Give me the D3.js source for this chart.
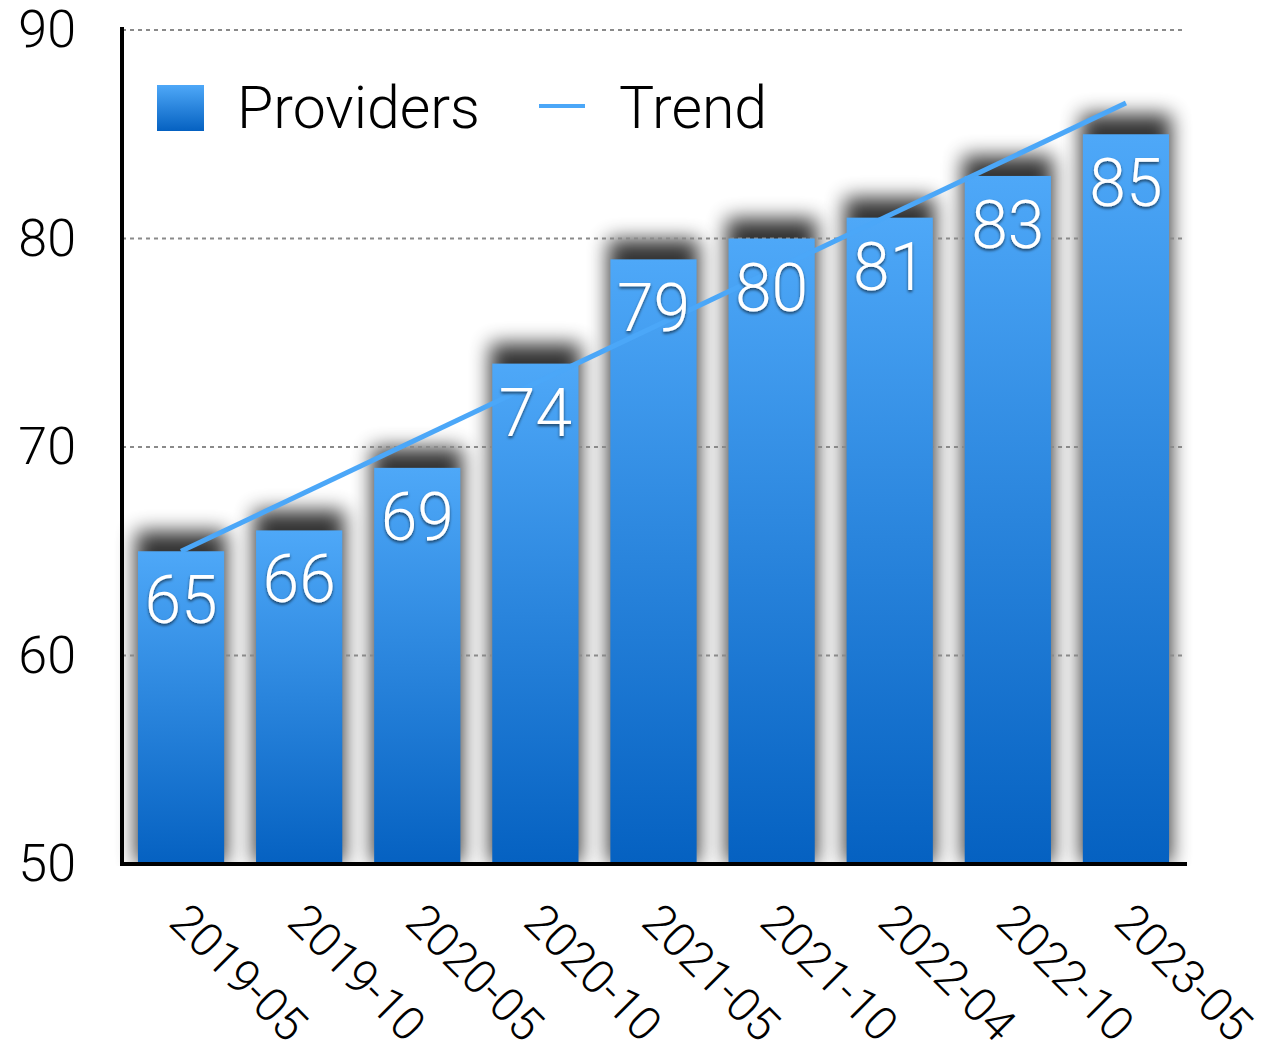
<!DOCTYPE html>
<html>
<head>
<meta charset="utf-8">
<script src="https://cdn.jsdelivr.net/npm/d3@7"></script>
<style>
  body { margin: 0; background: #fff; }
  text { font-family: "Roboto", "Liberation Sans", sans-serif; font-weight: 300; }
</style>
</head>
<body>
<div class="visHolder"></div>
<script>
// data
var categories = ["2019-05", "2019-10", "2020-05", "2020-10", "2021-05", "2021-10", "2022-04", "2022-10", "2023-05"];
var providers = [65, 66, 69, 74, 79, 80, 81, 83, 85];
var trendEnds = [65.0, 86.5];   // straight trend line, first and last category
var yTicks = [50, 60, 70, 80, 90];

var width = 1266,
    height = 1043;

var svg = d3.select(".visHolder")
            .append("svg")
            .attr("width", width)
            .attr("height", height);

var defs = svg.append("defs");

var grad = defs.append("linearGradient")
               .attr("id", "barGrad")
               .attr("x1", 0).attr("y1", 0).attr("x2", 0).attr("y2", 1);
grad.append("stop").attr("offset", "0%").attr("stop-color", "#4ea8f8");
grad.append("stop").attr("offset", "100%").attr("stop-color", "#0561c1");

var shadow = defs.append("filter")
                 .attr("id", "barShadow")
                 .attr("x", "-50%").attr("y", "-50%")
                 .attr("width", "200%").attr("height", "200%");
shadow.append("feGaussianBlur").attr("stdDeviation", 10);

var textShadow = defs.append("filter")
                     .attr("id", "textShadow")
                     .attr("x", "-20%").attr("y", "-20%")
                     .attr("width", "140%").attr("height", "140%");
textShadow.append("feDropShadow")
          .attr("dx", 0).attr("dy", 2)
          .attr("stdDeviation", 1.5)
          .attr("flood-color", "#000")
          .attr("flood-opacity", 0.6);

var xScale = d3.scaleBand()
               .domain(categories)
               .range([122, 1185])
               .paddingInner(0.27)
               .paddingOuter(0.135);

var yScale = d3.scaleLinear()
               .domain([50, 90])
               .range([864, 30]);

// bar shadows (drawn under the grid)
svg.append("g")
   .selectAll("rect")
   .data(providers)
   .enter()
   .append("rect")
   .attr("x", function (d, i) { return xScale(categories[i]) - 2; })
   .attr("y", function (d) { return yScale(d) - 20; })
   .attr("width", xScale.bandwidth() + 4)
   .attr("height", function (d) { return 864 - yScale(d) + 20; })
   .style("fill", "#000")
   .style("opacity", 0.8)
   .attr("filter", "url(#barShadow)");

// grid
svg.append("g")
   .selectAll("line")
   .data(yTicks.slice(1))
   .enter()
   .append("line")
   .attr("x1", 122)
   .attr("x2", 1185)
   .attr("y1", function (d) { return yScale(d); })
   .attr("y2", function (d) { return yScale(d); })
   .style("stroke", "#8a8a8a")
   .style("stroke-width", 2)
   .style("stroke-dasharray", "4,4");

// bars
svg.append("g")
   .selectAll("rect")
   .data(providers)
   .enter()
   .append("rect")
   .attr("x", function (d, i) { return xScale(categories[i]); })
   .attr("y", function (d) { return yScale(d); })
   .attr("width", xScale.bandwidth())
   .attr("height", function (d) { return 864 - yScale(d); })
   .style("fill", "url(#barGrad)");

// white area below the axis to clip the shadow
svg.append("rect")
   .attr("x", 0).attr("y", 866)
   .attr("width", width).attr("height", height - 866)
   .style("fill", "#fff");

// trend line
var xCenter = function (c) { return xScale(c) + xScale.bandwidth() / 2; };
svg.append("line")
   .attr("x1", xCenter(categories[0]))
   .attr("y1", yScale(trendEnds[0]))
   .attr("x2", xCenter(categories[categories.length - 1]))
   .attr("y2", yScale(trendEnds[1]))
   .style("stroke", "#4ba7f8")
   .style("stroke-width", 5);

// value labels
svg.append("g")
   .selectAll("text")
   .data(providers)
   .enter()
   .append("text")
   .attr("x", function (d, i) { return xCenter(categories[i]); })
   .attr("y", function (d) { return yScale(d) + 72; })
   .attr("text-anchor", "middle")
   .attr("filter", "url(#textShadow)")
   .style("font-size", "66px")
   .style("fill", "#fff")
   .text(function (d) { return d; });

// axes
var yAxis = d3.axisLeft(yScale).tickValues(yTicks).tickSize(0).tickPadding(46);
var yG = svg.append("g").attr("transform", "translate(122,0)").call(yAxis);
yG.select(".domain").remove();
yG.selectAll("text")
  .style("font-size", "52px")
  .style("font-family", "Roboto, sans-serif")
  .style("font-weight", 300)
  .style("fill", "#000");

svg.append("line")
   .attr("x1", 122).attr("x2", 122)
   .attr("y1", 27).attr("y2", 866)
   .style("stroke", "#000").style("stroke-width", 4);
svg.append("line")
   .attr("x1", 120).attr("x2", 1187)
   .attr("y1", 864).attr("y2", 864)
   .style("stroke", "#000").style("stroke-width", 4);

svg.append("g")
   .selectAll("text")
   .data(categories)
   .enter()
   .append("text")
   .attr("transform", function (d) {
     return "translate(" + (xCenter(d) + 10) + ",900) rotate(45)";
   })
   .attr("dy", "0.72em")
   .style("font-size", "47px")
   .style("fill", "#000")
   .text(function (d) { return d; });

// legend
var legend = svg.append("g");
legend.append("rect")
      .attr("x", 157).attr("y", 85)
      .attr("width", 47).attr("height", 46)
      .style("fill", "url(#barGrad)");
legend.append("text")
      .attr("x", 237).attr("y", 128)
      .style("font-size", "59px")
      .text("Providers");
legend.append("line")
      .attr("x1", 539).attr("x2", 585)
      .attr("y1", 106).attr("y2", 106)
      .style("stroke", "#4ba7f8").style("stroke-width", 4);
legend.append("text")
      .attr("x", 619).attr("y", 128)
      .style("font-size", "59px")
      .text("Trend");
</script>
</body>
</html>
